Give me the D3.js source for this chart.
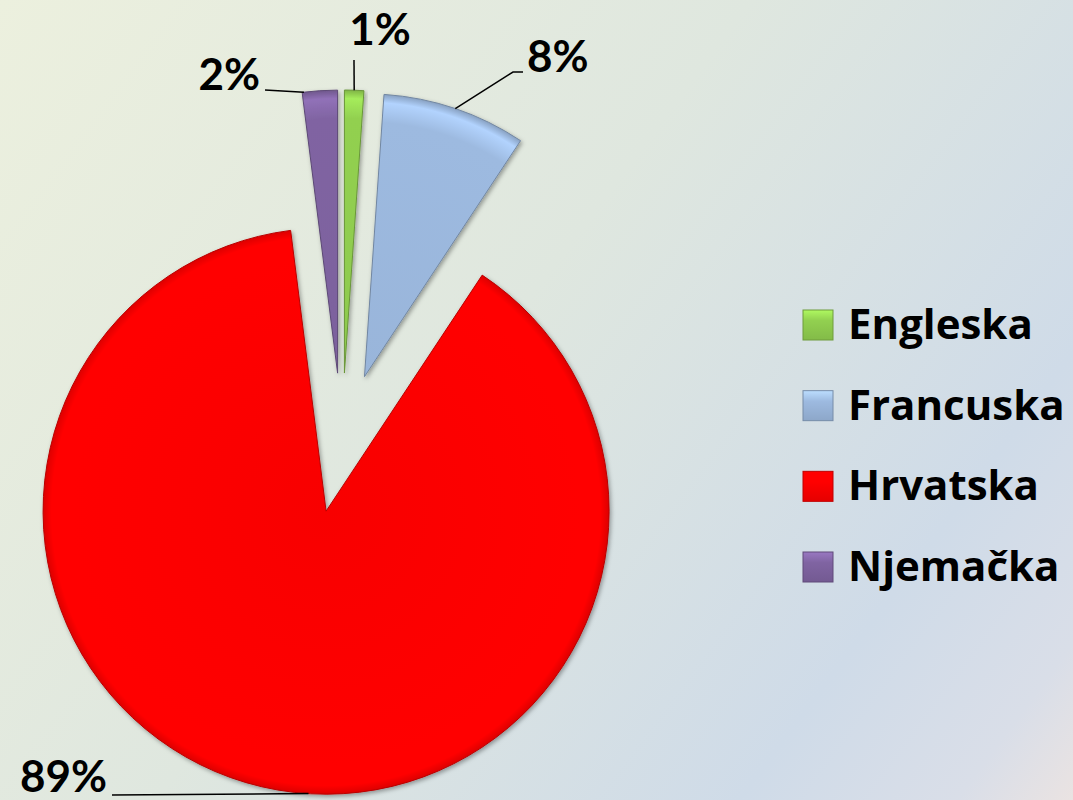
<!DOCTYPE html>
<html>
<head>
<meta charset="utf-8">
<script src="https://cdn.jsdelivr.net/npm/d3@7"></script>
<style>
    html, body { margin: 0; padding: 0; overflow: hidden; }
    svg { display: block; }
    text { font-family: Lato, "Open Sans", sans-serif; font-weight: 700; fill: #000; }
    .legend text { font-family: "Open Sans", Lato, sans-serif; }
</style>
</head>
<body>
<div id="chart"></div>
<script>
// data
const countries = ['Engleska', 'Francuska', 'Hrvatska', 'Njemačka'];
const shares = [1.1, 8.2, 88.7, 2.0];
const sliceColors = ['#92d050', '#9dbae0', '#ff0000', '#8064a2'];
const labelText = ['1%', '8%', '89%', '2%'];

(() => {
    const width = 1073, height = 800;
    const cx = 342, cy = 443, radius = 283, explode = 70;

    // where each label sits and how its leader line bends
    const labelLayout = [
        { x: 380, y: 45, anchor: 'middle', leader: [[354, 60]] },
        { x: 527, y: 72, anchor: 'start', leader: [[523, 72], [513, 72]] },
        { x: 107, y: 792, anchor: 'end', leader: [[112, 795]] },
        { x: 260, y: 90, anchor: 'end', leader: [[265, 90]] }
    ];

    const svg = d3.select('#chart').append('svg').attr('width', width).attr('height', height);
    const defs = svg.append('defs');

    const bg = defs.append('linearGradient').attr('id', 'bg').attr('gradientUnits', 'userSpaceOnUse')
        .attr('x1', 0).attr('y1', 0).attr('x2', width).attr('y2', height);
    [[0, '#ecf0de'], [0.45, '#dfe7df'], [0.8, '#cfdbe8'], [0.93, '#d9dee8'], [1, '#eae3e2']]
        .forEach(([o, c]) => bg.append('stop').attr('offset', o).attr('stop-color', c));
    svg.append('rect').attr('width', width).attr('height', height).attr('fill', 'url(#bg)');

    const shadow = defs.append('filter').attr('id', 'shadow').attr('x', '-20%').attr('y', '-20%').attr('width', '140%').attr('height', '140%');
    shadow.append('feDropShadow').attr('dx', 1.5).attr('dy', 2).attr('stdDeviation', 2).attr('flood-color', '#000').attr('flood-opacity', 0.35);

    sliceColors.forEach((c, i) => {
        const g = defs.append('radialGradient').attr('id', `fill${i}`).attr('gradientUnits', 'userSpaceOnUse')
            .attr('cx', 0).attr('cy', 0).attr('r', radius);
        g.append('stop').attr('offset', 0).attr('stop-color', d3.color(c).darker(0.08));
        g.append('stop').attr('offset', 0.9).attr('stop-color', c);
        g.append('stop').attr('offset', 0.97).attr('stop-color', d3.color(c).brighter(0.35));
        g.append('stop').attr('offset', 1).attr('stop-color', d3.color(c).darker(0.4));
        const lg = defs.append('linearGradient').attr('id', `leg${i}`).attr('x1', 0).attr('y1', 0).attr('x2', 0).attr('y2', 1);
        lg.append('stop').attr('offset', 0).attr('stop-color', d3.color(c).brighter(0.5));
        lg.append('stop').attr('offset', 0.35).attr('stop-color', c);
        lg.append('stop').attr('offset', 1).attr('stop-color', d3.color(c).darker(0.3));
    });

    const pie = d3.pie().sort(null).value(d => d);
    const arcs = pie(shares);
    const arc = d3.arc().innerRadius(0).outerRadius(radius);
    const mid = d => (d.startAngle + d.endAngle) / 2;
    const shift = d => [Math.sin(mid(d)) * explode, -Math.cos(mid(d)) * explode];

    const pieG = svg.append('g').attr('transform', `translate(${cx},${cy})`);
    pieG.selectAll('path').data(arcs).join('path')
        .attr('transform', d => `translate(${shift(d)})`)
        .attr('d', arc)
        .attr('fill', (d, i) => `url(#fill${i})`)
        .attr('stroke', (d, i) => d3.color(sliceColors[i]).darker(0.9))
        .attr('stroke-width', 1)
        .attr('filter', 'url(#shadow)');

    // leader lines start on each slice's outer edge
    const anchorAngle = [0.5, 0.5, 0.47, 0.05];
    const leaderStart = (d, i) => {
        const a = d.startAngle + (d.endAngle - d.startAngle) * anchorAngle[i];
        const [sx, sy] = shift(d);
        return [cx + sx + Math.sin(a) * radius, cy + sy - Math.cos(a) * radius];
    };
    const line = d3.line();
    svg.append('g').selectAll('path').data(arcs).join('path')
        .attr('d', (d, i) => line([...labelLayout[i].leader, leaderStart(d, i)]))
        .attr('fill', 'none').attr('stroke', '#000').attr('stroke-width', 1.5);

    svg.append('g').selectAll('text').data(arcs).join('text')
        .attr('x', (d, i) => labelLayout[i].x).attr('y', (d, i) => labelLayout[i].y)
        .attr('text-anchor', (d, i) => labelLayout[i].anchor)
        .style('font-size', '44px')
        .text((d, i) => labelText[i]);

    const legendY = d3.scalePoint().domain(countries).range([325, 567]);
    const legend = svg.append('g').attr('class', 'legend').selectAll('g').data(countries).join('g')
        .attr('transform', d => `translate(803,${legendY(d)})`);
    legend.append('rect').attr('x', 0).attr('y', -15).attr('width', 30).attr('height', 30)
        .attr('fill', (d, i) => `url(#leg${i})`)
        .attr('stroke', (d, i) => d3.color(sliceColors[i]).darker(0.8)).attr('stroke-width', 1);
    legend.append('text').attr('x', 45).attr('y', 14).style('font-size', '42px').text(d => d);
})();
</script>
</body>
</html>
